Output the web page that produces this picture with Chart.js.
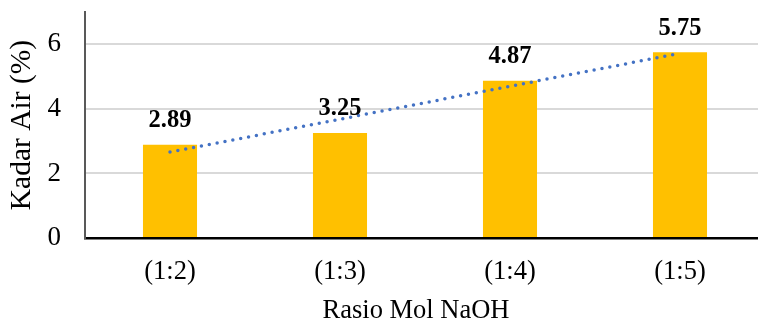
<!DOCTYPE html>
<html>
<head>
<meta charset="utf-8">
<script src="https://cdn.jsdelivr.net/npm/chart.js@4/dist/chart.umd.min.js"></script>
<style>
  html, body { margin: 0; padding: 0; background: #fff; overflow: hidden; }
  #wrap { width: 765px; height: 322px; }
</style>
</head>
<body>
<div id="wrap"><canvas id="c" width="765" height="322"></canvas></div>
<script>
// Water content per NaOH mole ratio
const categories = ['(1:2)', '(1:3)', '(1:4)', '(1:5)'];
const kadarAir = [2.89, 3.25, 4.87, 5.75];
// Linear trend line end points (first and last category)
const trendValues = [2.66, null, null, 5.72];
const yTicks = [0, 2, 4, 6];
const xTitle = 'Rasio Mol NaOH';
const yTitle = 'Kadar Air (%)';

const FONT = '"Liberation Serif", "Times New Roman", serif';

// Bold value above each bar, plus the horizontal axis title
const annotations = {
  id: 'annotations',
  afterDatasetsDraw(chart) {
    const ctx = chart.ctx;
    const meta = chart.getDatasetMeta(0);
    ctx.save();
    ctx.font = 'bold 24.5px ' + FONT;
    ctx.fillStyle = '#000';
    ctx.textAlign = 'center';
    ctx.textBaseline = 'middle';
    meta.data.forEach((bar, i) => {
      ctx.fillText(kadarAir[i].toFixed(2), bar.x, bar.y - 24);
    });
    ctx.font = '26.5px ' + FONT;
    ctx.textBaseline = 'alphabetic';
    ctx.fillText(xTitle, 416, 318);
    ctx.restore();
  }
};

function noEdgePadding(s) {
  s.paddingTop = 0;
  s.paddingBottom = 0;
  s.paddingLeft = 0;
  s.paddingRight = 0;
}

new Chart(document.getElementById('c'), {
  data: {
    labels: categories,
    datasets: [
      {
        type: 'bar',
        data: kadarAir,
        backgroundColor: '#FFC000',
        categoryPercentage: 1,
        barPercentage: 0.318,
        order: 2
      },
      {
        type: 'line',
        data: trendValues,
        spanGaps: true,
        borderColor: '#4472C4',
        borderWidth: 3.5,
        borderDash: [0, 8],
        borderCapStyle: 'round',
        pointRadius: 0,
        fill: false,
        order: 1
      }
    ]
  },
  options: {
    responsive: false,
    animation: false,
    events: [],
    layout: { padding: { top: 12, right: 0, left: 0, bottom: 0 } },
    plugins: {
      legend: { display: false },
      tooltip: { enabled: false }
    },
    scales: {
      x: {
        grid: { display: false, drawTicks: false },
        border: { display: true, color: '#000', width: 2.5 },
        ticks: {
          color: '#000',
          font: { family: FONT, size: 26.5 },
          padding: 18,
          maxRotation: 0
        },
        afterFit(s) { noEdgePadding(s); s.height = 84; }
      },
      y: {
        min: 0,
        max: 7,
        afterBuildTicks(s) { s.ticks = yTicks.map(v => ({ value: v })); },
        grid: {
          color: c => (c.tick && c.tick.value === 0) ? 'rgba(0,0,0,0)' : '#d9d9d9',
          lineWidth: 2,
          drawTicks: false
        },
        border: { display: true, color: '#595959', width: 2 },
        ticks: {
          color: '#000',
          font: { family: FONT, size: 27 },
          padding: 24
        },
        title: {
          display: true,
          text: yTitle,
          color: '#000',
          font: { family: FONT, size: 29.5 },
          padding: { top: 5, bottom: 0 }
        },
        afterFit(s) { noEdgePadding(s); s.width = 85; }
      }
    }
  },
  plugins: [annotations]
});
</script>
</body>
</html>
